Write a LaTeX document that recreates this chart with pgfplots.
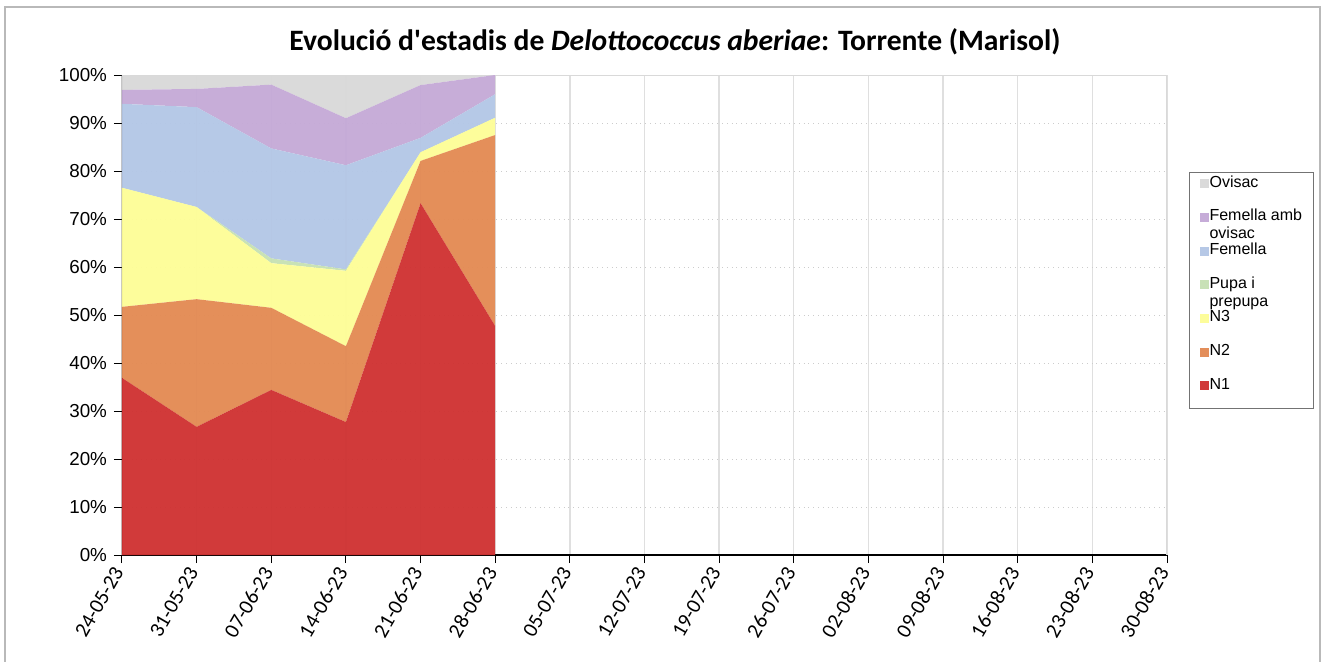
\documentclass[border=0pt]{standalone}
\usepackage{pgfplots}
\usepackage{pgfplotstable}
\pgfplotsset{compat=1.18}
\usepackage{fontspec}
\setmainfont{Liberation Sans}
\newfontfamily\carlito{Carlito}
\definecolor{cN1}{RGB}{207,52,52}
\definecolor{cN2}{RGB}{227,139,85}
\definecolor{cN3}{RGB}{253,253,152}
\definecolor{cPupa}{RGB}{199,225,180}
\definecolor{cFem}{RGB}{180,199,230}
\definecolor{cFAO}{RGB}{197,170,215}
\definecolor{cOvi}{RGB}{217,217,217}
\pgfplotstableread{
x N1 N2 N3 Pupa Fem FAO Ovi
0 36.9 14.8 24.8 0 17.5 2.9 3.1
1 26.7 26.6 19.2 0 20.8 3.8 2.9
2 34.4 17.1 9.3 1.0 22.9 13.3 2.0
3 27.7 15.8 15.7 0.3 21.7 9.8 9.0
4 73.3 8.8 1.8 0 3.0 11.0 2.1
5 47.7 39.8 3.6 0 4.9 4.0 0
}\datatab
\newcommand\lent[1]{\parbox[t]{47pt}{\raggedright\baselineskip=9pt #1}}
\begin{document}
\begin{tikzpicture}
\path[use as bounding box] (0pt,0pt) rectangle (661pt,330.5pt);
\draw[gray!55, line width=0.7pt] (2.5pt,-2pt) -- (2.5pt,327pt) -- (660pt,327pt) -- (660pt,-2pt);
\node[font=\carlito\bfseries\fontsize{14.8}{17}\selectfont] at (337.5pt,309.5pt) {Evolució d'estadis de \textit{Delottococcus aberiae}: Torrente (Marisol)};
\begin{axis}[
  at={(61pt,53pt)}, anchor=south west,
  scale only axis, width=522.5pt, height=240pt,
  xmin=0, xmax=14, ymin=0, ymax=100,
  stack plots=y,
  axis line style={draw=none},
  tick pos=left, tick align=outside,
  major tick length=4pt,
  every tick/.style={black, line width=0.5pt},
  xtick={0,...,14},
  xticklabels={24-05-23,31-05-23,07-06-23,14-06-23,21-06-23,28-06-23,05-07-23,12-07-23,19-07-23,26-07-23,02-08-23,09-08-23,16-08-23,23-08-23,30-08-23},
  ytick={0,10,...,100},
  yticklabels={0\%,10\%,20\%,30\%,40\%,50\%,60\%,70\%,80\%,90\%,100\%},
  xticklabel style={rotate=60, anchor=east, font=\carlito\fontsize{10.5}{12}\selectfont},
  yticklabel style={font=\fontsize{9.4}{11}\selectfont},
  xmajorgrids, ymajorgrids,
  x grid style={gray!25, line width=0.7pt},
  y grid style={gray!40, dotted, line width=0.5pt},
  reverse legend,
  legend image code/.code={\fill[#1] (0pt,0.6pt) rectangle (4.5pt,5.1pt);},
  legend cell align=left,
  legend style={at={(1.0211,0.798)}, anchor=north west, draw=gray!90!black, line width=0.5pt,
    font=\fontsize{8}{9}\selectfont, inner xsep=5pt, inner ysep=1.35pt, row sep=2.55pt, column sep=0.5pt,
    nodes={inner sep=0pt, text height=6pt, text depth=8.3pt}},
]
\addplot[fill=cN1, draw=none, fill opacity=0.97] table[x=x,y=N1] {\datatab} \closedcycle;
\addlegendentry{\lent{N1}}
\addplot[fill=cN2, draw=none, fill opacity=0.97] table[x=x,y=N2] {\datatab} \closedcycle;
\addlegendentry{\lent{N2}}
\addplot[fill=cN3, draw=none, fill opacity=0.97] table[x=x,y=N3] {\datatab} \closedcycle;
\addlegendentry{\lent{N3}}
\addplot[fill=cPupa, draw=none, fill opacity=0.97] table[x=x,y=Pupa] {\datatab} \closedcycle;
\addlegendentry{\lent{Pupa i\\prepupa}}
\addplot[fill=cFem, draw=none, fill opacity=0.97] table[x=x,y=Fem] {\datatab} \closedcycle;
\addlegendentry{\lent{Femella}}
\addplot[fill=cFAO, draw=none, fill opacity=0.97] table[x=x,y=FAO] {\datatab} \closedcycle;
\addlegendentry{\lent{Femella amb\\ovisac}}
\addplot[fill=cOvi, draw=none, fill opacity=0.97] table[x=x,y=Ovi] {\datatab} \closedcycle;
\addlegendentry{\lent{Ovisac}}
\draw[gray!30, line width=1.3pt] (rel axis cs:0,1) -- (rel axis cs:1,1) -- (rel axis cs:1,0);
\draw[black, line width=0.6pt] (rel axis cs:0,1) -- (rel axis cs:0,0) -- (rel axis cs:1,0);
\end{axis}
\end{tikzpicture}
\end{document}
